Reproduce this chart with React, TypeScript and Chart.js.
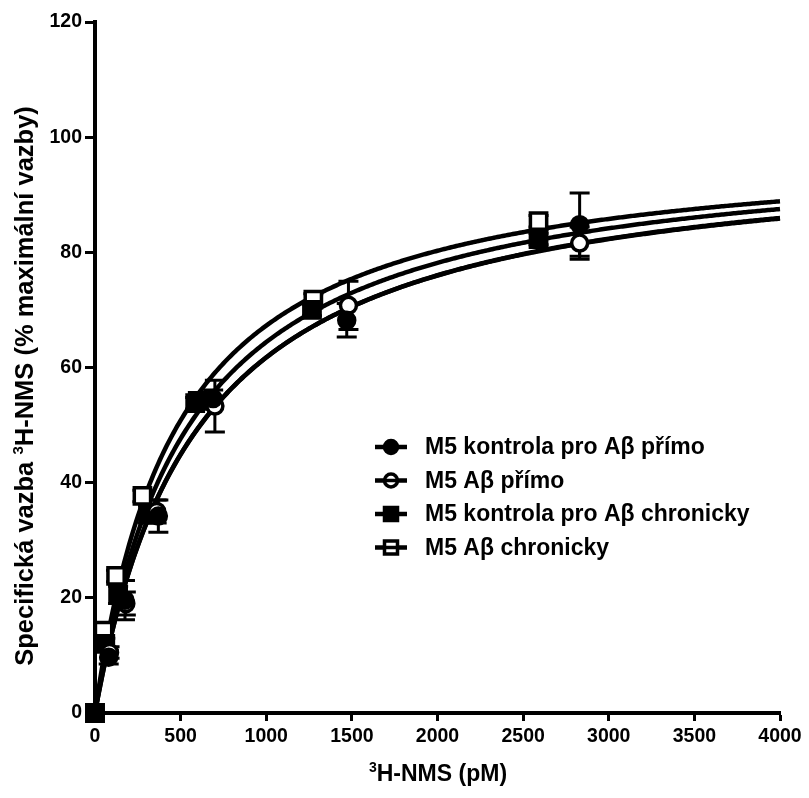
import React, { useEffect, useRef } from "react";
import { Chart, registerables } from "chart.js";

Chart.register(...registerables);

const FONT = "'Liberation Sans', Arial, Helvetica, sans-serif";

// Series names (legend)
const seriesNames = [
  "M5 kontrola pro Aβ přímo",
  "M5 Aβ přímo",
  "M5 kontrola pro Aβ chronicky",
  "M5 Aβ chronicky",
];

// M5 kontrola pro Aβ přímo (filled circle)
const ctrlDirectX = [0, 80, 175, 370, 690, 1470, 2830];
const ctrlDirectY = [0, 9.7, 19.6, 34.2, 54.6, 68.2, 84.8];
const ctrlDirectErr = [0, 1.2, 3.4, 2.8, 1.5, 2.9, 5.5];

// M5 Aβ přímo (open circle)
const abDirectX = [0, 85, 180, 360, 700, 1480, 2830];
const abDirectY = [0, 10.5, 19.0, 35.0, 53.3, 70.8, 81.6];
const abDirectErr = [0, 1.0, 2.0, 2.0, 4.5, 4.2, 2.8];

// M5 kontrola pro Aβ chronicky (filled square)
const ctrlChronX = [0, 60, 135, 310, 585, 1267, 2590];
const ctrlChronY = [0, 12.0, 20.5, 34.5, 53.8, 70.0, 82.3];
const ctrlChronErr = [0, 1.0, 1.5, 1.5, 1.0, 1.0, 1.0];

// M5 Aβ chronicky (open square)
const abChronX = [0, 50, 123, 277, 600, 1275, 2590];
const abChronY = [0, 14.3, 23.8, 37.7, 54.2, 71.8, 85.4];
const abChronErr = [0, 1.0, 1.0, 1.0, 1.0, 1.0, 1.0];

// One-site binding fit parameters (Bmax %, Kd pM)
const fitBmax = [98.7, 98.9, 99.4, 99.5];
const fitKd = [598, 602, 543, 479];

// Axis ticks
const xTickStep = 500;
const xMin = 0;
const xMax = 4000;
const yTickStep = 20;
const yMin = 0;
const yMax = 120;

const seriesX = [ctrlDirectX, abDirectX, ctrlChronX, abChronX];
const seriesY = [ctrlDirectY, abDirectY, ctrlChronY, abChronY];
const seriesErr = [ctrlDirectErr, abDirectErr, ctrlChronErr, abChronErr];
const seriesStyle: ("circle" | "rect")[] = ["circle", "circle", "rect", "rect"];
const seriesFilled = [true, false, true, false];

function curvePoints(b: number, k: number) {
  const pts: { x: number; y: number }[] = [];
  for (let x = xMin; x <= xMax; x += 10) {
    pts.push({ x, y: (b * x) / (k + x) });
  }
  return pts;
}

function drawParts(
  ctx: CanvasRenderingContext2D,
  parts: { t: string; size: number; rise?: number }[],
  cx: number,
  baseline: number
) {
  let total = 0;
  const widths = parts.map((p) => {
    ctx.font = `bold ${p.size}px ${FONT}`;
    const w = ctx.measureText(p.t).width;
    total += w;
    return w;
  });
  let x = cx - total / 2;
  ctx.textAlign = "left";
  ctx.textBaseline = "alphabetic";
  ctx.fillStyle = "#000";
  parts.forEach((p, i) => {
    ctx.font = `bold ${p.size}px ${FONT}`;
    ctx.fillText(p.t, x, baseline - (p.rise || 0));
    x += widths[i];
  });
}

const errorBarPlugin = {
  id: "errorBars",
  beforeDatasetsDraw(chart: any) {
    const ctx = chart.ctx as CanvasRenderingContext2D;
    const yScale = chart.scales.y;
    ctx.save();
    ctx.strokeStyle = "#000";
    ctx.lineWidth = 3;
    chart.data.datasets.forEach((ds: any, i: number) => {
      if (!ds.errors) return;
      const meta = chart.getDatasetMeta(i);
      meta.data.forEach((el: any, j: number) => {
        const e = ds.errors[j];
        if (!e) return;
        const v = ds.data[j].y;
        const top = yScale.getPixelForValue(v + e);
        const bot = yScale.getPixelForValue(v - e);
        ctx.beginPath();
        ctx.moveTo(el.x, top);
        ctx.lineTo(el.x, bot);
        ctx.moveTo(el.x - 10, top);
        ctx.lineTo(el.x + 10, top);
        ctx.moveTo(el.x - 10, bot);
        ctx.lineTo(el.x + 10, bot);
        ctx.stroke();
      });
    });
    ctx.restore();
  },
};

const annotationsPlugin = {
  id: "customText",
  afterDraw(chart: any) {
    const ctx = chart.ctx as CanvasRenderingContext2D;
    ctx.save();
    // X axis title
    drawParts(
      ctx,
      [
        { t: "3", size: 14, rise: 9 },
        { t: "H-NMS (pM)", size: 23 },
      ],
      438,
      781
    );
    // Y axis title
    ctx.save();
    ctx.translate(33, 386);
    ctx.rotate(-Math.PI / 2);
    drawParts(
      ctx,
      [
        { t: "Specifická vazba ", size: 25.5 },
        { t: "3", size: 15, rise: 10 },
        { t: "H-NMS (% maximální vazby)", size: 25.5 },
      ],
      0,
      0
    );
    ctx.restore();

    // Legend
    const lx = 391;
    const ly0 = 447;
    const dy = 33.5;
    seriesNames.forEach((name, i) => {
      const y = ly0 + dy * i;
      ctx.strokeStyle = "#000";
      ctx.lineWidth = 4.5;
      ctx.beginPath();
      ctx.moveTo(lx - 16, y);
      ctx.lineTo(lx + 16, y);
      ctx.stroke();
      ctx.lineWidth = 3.5;
      ctx.fillStyle = seriesFilled[i] ? "#000" : "#fff";
      ctx.beginPath();
      if (seriesStyle[i] === "circle") {
        ctx.arc(lx, y, 6.5, 0, Math.PI * 2);
      } else {
        ctx.rect(lx - 6.5, y - 6.5, 13, 13);
      }
      ctx.fill();
      ctx.stroke();
      if (!seriesFilled[i]) {
        ctx.lineWidth = 3.5;
        ctx.beginPath();
        ctx.moveTo(lx - 7, y);
        ctx.lineTo(lx + 7, y);
        ctx.stroke();
      }
      ctx.fillStyle = "#000";
      ctx.font = `bold 23px ${FONT}`;
      ctx.textAlign = "left";
      ctx.textBaseline = "middle";
      ctx.fillText(name, 425, y + 1);
    });
    ctx.restore();
  },
};

export default function App() {
  const ref = useRef<HTMLCanvasElement | null>(null);

  useEffect(() => {
    if (!ref.current) return;
    const curveSets = fitBmax.map((b, i) => ({
      type: "line" as const,
      label: "fit " + seriesNames[i],
      data: curvePoints(b, fitKd[i]),
      borderColor: "#000",
      borderWidth: 4.5,
      pointRadius: 0,
      fill: false,
      tension: 0,
      order: 20 + i,
      clip: false as any,
    }));
    const pointSets = seriesNames.map((name, i) => ({
      type: "scatter" as const,
      label: name,
      data: seriesX[i].map((x, j) => ({ x, y: seriesY[i][j] })),
      errors: seriesErr[i],
      pointStyle: seriesStyle[i],
      pointRadius: seriesStyle[i] === "circle" ? 8 : 11.5,
      pointBorderWidth: 3.5,
      pointBackgroundColor: seriesFilled[i] ? "#000" : "#fff",
      pointBorderColor: "#000",
      showLine: false,
      order: 1 + i,
      clip: false as any,
    }));

    const tickFont = { family: FONT, size: 19.5, weight: "bold" as const };

    const chart = new Chart(ref.current, {
      type: "scatter",
      data: { datasets: [...pointSets, ...curveSets] as any },
      options: {
        responsive: false,
        animation: false,
        devicePixelRatio: 1,
        events: [],
        layout: { padding: { top: 22, right: 29, left: 0, bottom: 0 } },
        plugins: {
          legend: { display: false },
          tooltip: { enabled: false },
          title: { display: false },
        },
        scales: {
          x: {
            type: "linear",
            min: xMin,
            max: xMax,
            ticks: {
              stepSize: xTickStep,
              color: "#000",
              font: tickFont,
              padding: 4,
              maxRotation: 0,
              callback: (v: any) => String(v),
            },
            grid: {
              display: true,
              drawOnChartArea: false,
              drawTicks: true,
              tickLength: 8,
              tickWidth: 3,
              tickColor: "#000",
              color: "#000",
            },
            border: { display: true, width: 4, color: "#000" },
            afterFit: (s: any) => {
              s.height = 85;
            },
          },
          y: {
            type: "linear",
            min: yMin,
            max: yMax,
            ticks: {
              stepSize: yTickStep,
              color: "#000",
              font: tickFont,
              padding: 3,
              callback: (v: any) => String(v),
            },
            grid: {
              display: true,
              drawOnChartArea: false,
              drawTicks: true,
              tickLength: 10,
              tickWidth: 3,
              tickColor: "#000",
              color: "#000",
            },
            border: { display: true, width: 4, color: "#000" },
            afterFit: (s: any) => {
              s.width = 95;
            },
          },
        },
      },
      plugins: [errorBarPlugin, annotationsPlugin],
    });
    return () => chart.destroy();
  }, []);

  return (
    <div style={{ position: "absolute", left: 0, top: 0, width: 809, height: 798, background: "#fff" }}>
      <canvas ref={ref} width={809} height={798} style={{ display: "block" }} />
    </div>
  );
}
